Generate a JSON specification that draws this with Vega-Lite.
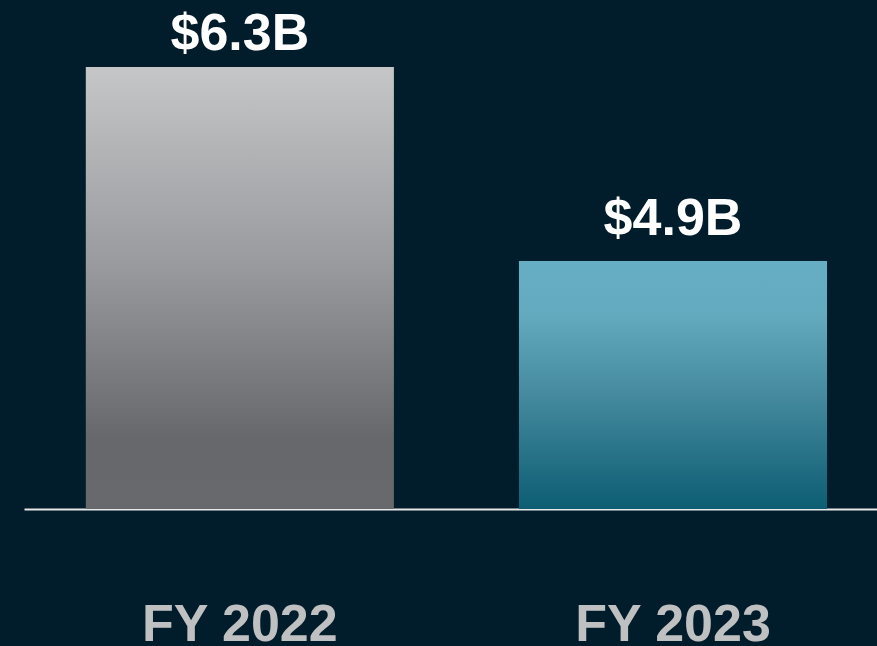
{
  "$schema": "https://vega.github.io/schema/vega-lite/v6.json",
  "autosize": {"type": "none"},
  "padding": {"left": 24, "top": 0, "right": 0, "bottom": 137},
  "width": 853,
  "height": 509,
  "background": "#011c2a",
  "config": {"view": {"stroke": null}, "font": "Liberation Sans"},
  "data": {"values": [
    {"year": "FY 2022", "revenue": 6.3, "label": "$6.3B"},
    {"year": "FY 2023", "revenue": 4.9, "label": "$4.9B"}
  ]},
  "encoding": {
    "x": {"field": "year", "type": "nominal", "sort": null,
      "scale": {"paddingInner": 0.2887, "paddingOuter": 0.129, "align": 0.553},
      "axis": {"title": null, "labelAngle": 0, "ticks": false, "domain": true, "domainColor": "#e8e8e8", "domainWidth": 2,
        "labelFontSize": 52, "labelFontWeight": "bold", "labelColor": "#bfc0c1", "labelPadding": 90, "labelLimit": 0, "labelFont": "Liberation Sans", "grid": false}},
    "y": {"field": "revenue", "type": "quantitative",
      "scale": {"domain": [3.11, 6.784], "zero": false, "nice": false},
      "axis": null}
  },
  "layer": [
    {
      "transform": [{"filter": "datum.year == 'FY 2022'"}],
      "mark": {"type": "bar",
        "color": {"gradient": "linear", "x1": 0, "y1": 0, "x2": 0, "y2": 1,
          "stops": [{"offset": 0, "color": "#c5c6c7"}, {"offset": 0.45, "color": "#999a9e"}, {"offset": 0.84, "color": "#67686c"}, {"offset": 1, "color": "#68696d"}]}},
      "encoding": {"y2": {"datum": 3.11}}
    },
    {
      "transform": [{"filter": "datum.year == 'FY 2023'"}],
      "mark": {"type": "bar",
        "color": {"gradient": "linear", "x1": 0, "y1": 0, "x2": 0, "y2": 1,
          "stops": [{"offset": 0, "color": "#66aec3"}, {"offset": 0.22, "color": "#63aabf"}, {"offset": 0.56, "color": "#43889c"}, {"offset": 1, "color": "#0c5d73"}]}},
      "encoding": {"y2": {"datum": 3.11}}
    },
    {
      "transform": [{"filter": "datum.year == 'FY 2022'"}],
      "mark": {"type": "text", "dy": -17, "baseline": "alphabetic", "fontSize": 52, "fontWeight": "bold", "color": "#ffffff"},
      "encoding": {"text": {"field": "label"}}
    },
    {
      "transform": [{"filter": "datum.year == 'FY 2023'"}],
      "mark": {"type": "text", "dy": -26, "baseline": "alphabetic", "fontSize": 52, "fontWeight": "bold", "color": "#ffffff"},
      "encoding": {"text": {"field": "label"}}
    }
  ]
}
